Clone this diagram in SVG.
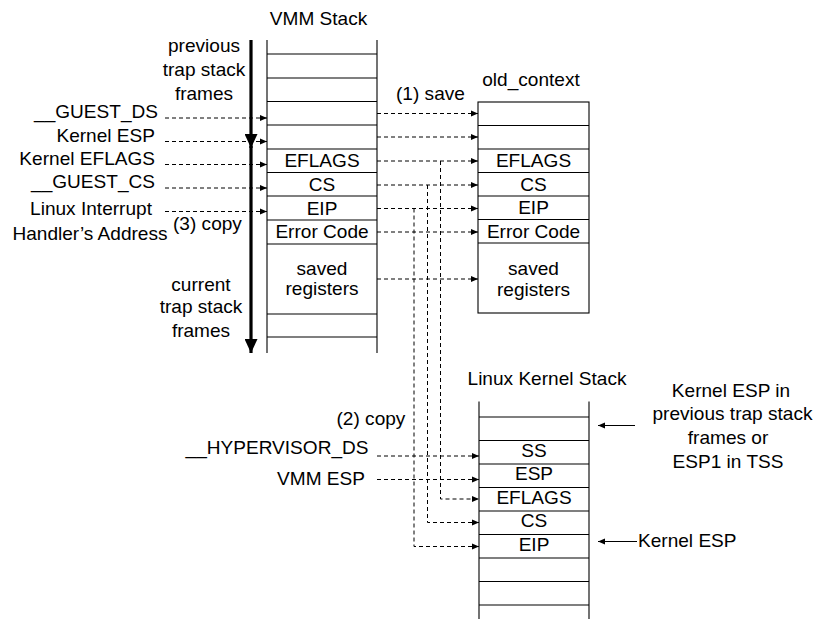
<svg xmlns="http://www.w3.org/2000/svg" width="820" height="619" viewBox="0 0 820 619">
<style>
.t{font-family:"Liberation Sans",Arial,sans-serif;font-size:18px;fill:#000}
.m{text-anchor:middle}
.e{text-anchor:end}
.box{fill:none;stroke:#000;stroke-width:1.1}
.d{fill:none;stroke:#000;stroke-width:1;stroke-dasharray:4,3}
.s{fill:none;stroke:#000;stroke-width:1}
.thick{fill:none;stroke:#000;stroke-width:3.2}
</style>
<defs>
<marker id="ah" viewBox="0 0 7 7" refX="7" refY="3.5" markerWidth="7" markerHeight="7" markerUnits="userSpaceOnUse" orient="auto">
<path d="M0,0.5 L7,3.5 L0,6.5 z" fill="#000"/>
</marker>
<marker id="big" viewBox="0 0 14 13" refX="14" refY="6.5" markerWidth="14" markerHeight="13" markerUnits="userSpaceOnUse" orient="auto">
<path d="M0,0 L14,6.5 L0,13 z" fill="#000"/>
</marker>
</defs>

<g id="vmm-stack">
<text class="t m" transform="translate(318.5,25) scale(1.06,1)">VMM Stack</text>
<path class="box" d="M267,40 V353 M377,40 V353 M267,54 H377 M267,78 H377 M267,101.5 H377 M267,125 H377 M267,149 H377 M267,172.5 H377 M267,196 H377 M267,220 H377 M267,244 H377 M267,314 H377 M267,337 H377"/>
<text class="t m" transform="translate(322,167) scale(1.06,1)">EFLAGS</text>
<text class="t m" transform="translate(322,190.5) scale(1.06,1)">CS</text>
<text class="t m" transform="translate(322,214.5) scale(1.06,1)">EIP</text>
<text class="t m" transform="translate(322,238) scale(1.06,1)">Error Code</text>
<text class="t m" transform="translate(322,275) scale(1.06,1)">saved</text>
<text class="t m" transform="translate(322,295) scale(1.06,1)">registers</text>
</g>

<g id="old-context">
<text class="t m" transform="translate(531,86) scale(1.06,1)">old_context</text>
<rect class="box" x="478" y="102" width="111" height="211"/>
<path class="box" d="M478,125.5 H589 M478,149 H589 M478,172.5 H589 M478,196 H589 M478,219.5 H589 M478,243 H589"/>
<text class="t m" transform="translate(533.5,167) scale(1.06,1)">EFLAGS</text>
<text class="t m" transform="translate(533.5,190.5) scale(1.06,1)">CS</text>
<text class="t m" transform="translate(533.5,214) scale(1.06,1)">EIP</text>
<text class="t m" transform="translate(533.5,237.5) scale(1.06,1)">Error Code</text>
<text class="t m" transform="translate(533.5,275) scale(1.06,1)">saved</text>
<text class="t m" transform="translate(533.5,295.5) scale(1.06,1)">registers</text>
</g>

<g id="kernel-stack">
<text class="t m" transform="translate(547,385) scale(1.06,1)">Linux Kernel Stack</text>
<path class="box" d="M479,401.5 V619 M589,401.5 V619 M479,417 H589 M479,440.5 H589 M479,464 H589 M479,487.5 H589 M479,511 H589 M479,534.5 H589 M479,558 H589 M479,581.5 H589 M479,605 H589"/>
<text class="t m" transform="translate(534,457) scale(1.06,1)">SS</text>
<text class="t m" transform="translate(534,480) scale(1.06,1)">ESP</text>
<text class="t m" transform="translate(534,504) scale(1.06,1)">EFLAGS</text>
<text class="t m" transform="translate(534,527) scale(1.06,1)">CS</text>
<text class="t m" transform="translate(534,550.5) scale(1.06,1)">EIP</text>
</g>

<g id="labels">
<text class="t m" transform="translate(204,52) scale(1.06,1)">previous</text>
<text class="t m" transform="translate(204,76) scale(1.06,1)">trap stack</text>
<text class="t m" transform="translate(204,100) scale(1.06,1)">frames</text>
<text class="t e" transform="translate(158,118) scale(1.06,1)">__GUEST_DS</text>
<text class="t e" transform="translate(155,141.5) scale(1.06,1)">Kernel ESP</text>
<text class="t e" transform="translate(155,165) scale(1.06,1)">Kernel EFLAGS</text>
<text class="t e" transform="translate(155,188) scale(1.06,1)">__GUEST_CS</text>
<text class="t m" transform="translate(91,215) scale(1.06,1)">Linux Interrupt</text>
<text class="t m" transform="translate(90,240) scale(1.06,1)">Handler’s Address</text>
<text class="t" transform="translate(173,230) scale(1.06,1)">(3) copy</text>
<text class="t m" transform="translate(201,291) scale(1.06,1)">current</text>
<text class="t m" transform="translate(201,312.5) scale(1.06,1)">trap stack</text>
<text class="t m" transform="translate(201,336.5) scale(1.06,1)">frames</text>
<text class="t" transform="translate(396,100) scale(1.06,1)">(1) save</text>
<text class="t" transform="translate(336.5,425) scale(1.06,1)">(2) copy</text>
<text class="t e" transform="translate(368.5,454) scale(1.06,1)">__HYPERVISOR_DS</text>
<text class="t e" transform="translate(365,485) scale(1.06,1)">VMM ESP</text>
<text class="t m" transform="translate(731,397) scale(1.06,1)">Kernel ESP in</text>
<text class="t m" transform="translate(732.5,420) scale(1.06,1)">previous trap stack</text>
<text class="t m" transform="translate(728,444) scale(1.06,1)">frames or</text>
<text class="t m" transform="translate(728,468) scale(1.06,1)">ESP1 in TSS</text>
<text class="t" transform="translate(638,547) scale(1.06,1)">Kernel ESP</text>
</g>

<g id="connectors">
<path class="d" marker-end="url(#ah)" d="M165,118 H267"/>
<path class="d" marker-end="url(#ah)" d="M165,141.5 H267"/>
<path class="d" marker-end="url(#ah)" d="M165,164.5 H267"/>
<path class="d" marker-end="url(#ah)" d="M165,188 H267"/>
<path class="d" marker-end="url(#ah)" d="M165,211.5 H267"/>
<path class="d" marker-end="url(#ah)" d="M377,113.5 H478"/>
<path class="d" marker-end="url(#ah)" d="M377,137 H478"/>
<path class="d" marker-end="url(#ah)" d="M377,161 H478"/>
<path class="d" marker-end="url(#ah)" d="M377,185 H478"/>
<path class="d" marker-end="url(#ah)" d="M377,208.5 H478"/>
<path class="d" marker-end="url(#ah)" d="M377,232 H478"/>
<path class="d" marker-end="url(#ah)" d="M377,279 H478"/>
<path class="d" marker-end="url(#ah)" d="M440.5,161 V499 H479"/>
<path class="d" marker-end="url(#ah)" d="M427.5,185 V522.5 H479"/>
<path class="d" marker-end="url(#ah)" d="M414,208.5 V546.5 H479"/>
<path class="d" marker-end="url(#ah)" d="M377,456 H479"/>
<path class="d" marker-end="url(#ah)" d="M377,479.5 H479"/>
<path class="s" marker-end="url(#ah)" d="M635,425.5 H598"/>
<path class="s" marker-end="url(#ah)" d="M637,541.5 H598"/>
<path class="thick" marker-end="url(#big)" d="M251,40 V148"/>
<path class="thick" marker-end="url(#big)" d="M251,146 V353"/>
</g>
</svg>
